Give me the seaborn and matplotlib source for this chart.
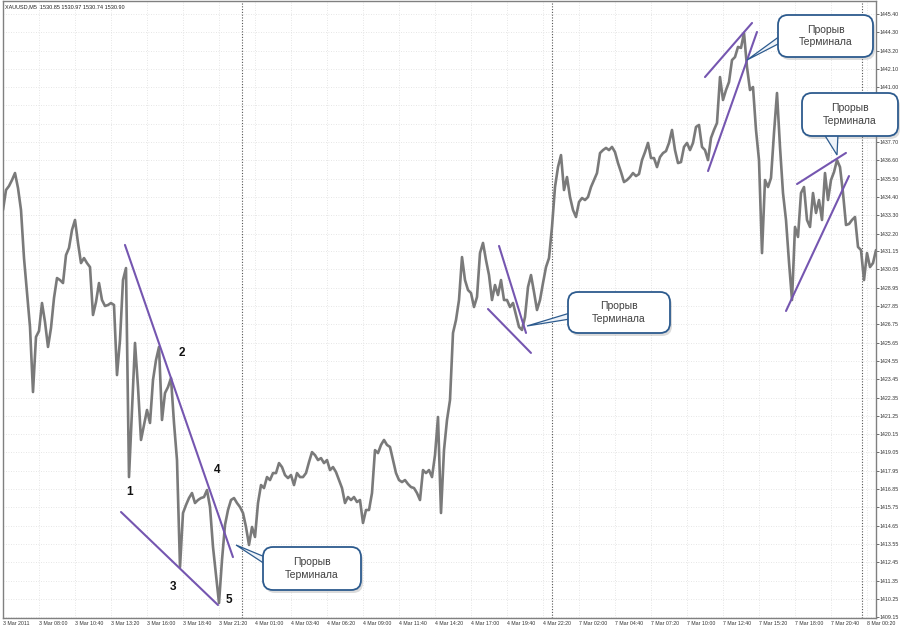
import matplotlib
matplotlib.use('Agg')
import matplotlib.pyplot as plt
from matplotlib.patches import FancyBboxPatch, Polygon
import numpy as np
import pandas as pd
import seaborn as sns

# XAUUSD M5, closes, one reading every 8/3 bars
close = [
    1433.62, 1434.82, 1435.06, 1435.42, 1435.84, 1434.94, 1433.62, 1430.73, 1428.63, 1426.59,
    1422.68, 1425.99, 1426.35, 1428.03, 1426.89, 1425.39, 1426.53, 1428.33, 1429.53, 1429.41,
    1429.23, 1430.91, 1431.34, 1432.42, 1433.02, 1431.64, 1430.43, 1430.73, 1430.43, 1430.19,
    1427.31, 1428.09, 1429.23, 1428.21, 1427.85, 1427.91, 1428.03, 1427.91, 1423.70, 1425.81,
    1429.41, 1430.13, 1417.57, 1421.60, 1425.63, 1422.98, 1419.80, 1420.70, 1421.60, 1420.82,
    1423.40, 1424.60, 1425.39, 1421.00, 1422.62, 1422.98, 1423.52, 1420.82, 1418.59, 1412.16,
    1415.41, 1415.89, 1416.31, 1416.61, 1416.01, 1416.19, 1416.31, 1416.37, 1416.79, 1415.77,
    1413.37, 1411.68, 1410.00, 1412.58, 1414.69, 1415.59, 1416.19, 1416.31, 1416.01, 1415.77,
    1415.41, 1414.57, 1413.49, 1414.57, 1413.97, 1416.01, 1417.09, 1416.91, 1417.57, 1417.39,
    1417.81, 1417.81, 1418.41, 1418.17, 1417.69, 1417.51, 1417.69, 1417.09, 1417.81, 1417.57,
    # 4 Mar
    1417.57, 1417.81, 1418.47, 1419.07, 1418.89, 1418.59, 1418.71, 1418.41, 1418.59, 1417.99,
    1418.17, 1417.87, 1417.39, 1416.91, 1416.01, 1416.37, 1416.19, 1416.37, 1416.07, 1416.19,
    1414.81, 1415.59, 1415.59, 1416.61, 1419.19, 1419.01, 1419.50, 1419.80, 1419.50, 1419.38,
    1418.59, 1417.81, 1417.39, 1417.27, 1417.39, 1417.15, 1416.97, 1416.91, 1416.61, 1416.19,
    1417.99, 1417.81, 1417.99, 1417.57, 1418.89, 1421.18, 1415.41, 1419.19, 1421.00, 1422.20,
    1426.23, 1427.01, 1428.21, 1430.79, 1429.41, 1428.81, 1428.63, 1427.79, 1428.39, 1431.03,
    1431.64, 1430.61, 1429.71, 1428.21, 1429.11, 1428.51, 1429.41, 1428.21, 1428.21, 1427.79,
    1428.03, 1427.31, 1426.59, 1426.41, 1427.19, 1428.99, 1429.71, 1428.69, 1427.61, 1428.21,
    1429.23, 1430.19, 1430.73, 1432.60, 1435.00, 1436.20, 1436.92, 1434.82, 1435.60, 1434.40,
    1433.62, 1433.20, 1434.10, 1434.34, 1434.22, 1434.40,
    # 7 Mar
    1435.00, 1435.42, 1435.84, 1437.04, 1437.22, 1437.35, 1437.22, 1437.41, 1437.10, 1436.44,
    1435.90, 1435.30, 1435.42, 1435.60, 1435.84, 1435.66, 1435.78, 1436.62, 1437.10, 1437.65,
    1436.74, 1436.74, 1436.20, 1436.80, 1437.04, 1437.16, 1437.65, 1438.43, 1437.22, 1436.44,
    1436.50, 1437.41, 1437.65, 1437.22, 1437.65, 1438.61, 1438.73, 1437.41, 1437.22, 1436.62,
    1437.95, 1438.43, 1438.85, 1441.61, 1440.23, 1440.83, 1441.31, 1442.63, 1442.81, 1443.42,
    1443.36, 1444.26, 1442.21, 1440.83, 1441.01, 1438.43, 1436.62, 1431.03, 1435.42, 1435.00,
    1435.54, 1438.25, 1440.65, 1437.41, 1434.64, 1433.02, 1430.49, 1428.21, 1432.60, 1432.00,
    1434.64, 1435.00, 1433.02, 1432.60, 1434.64, 1433.44, 1434.22, 1433.02, 1435.84, 1434.22,
    1435.42, 1435.90, 1436.62, 1436.20, 1434.64, 1432.72, 1432.78, 1433.02, 1433.20, 1431.40,
    1431.21, 1429.41, 1431.03, 1430.19, 1430.43, 1431.21,
]
step_bars = 8 / 3

x_labels = ['3 Mar 2011', '3 Mar 08:00', '3 Mar 10:40', '3 Mar 13:20', '3 Mar 16:00',
            '3 Mar 18:40', '3 Mar 21:20', '4 Mar 01:00', '4 Mar 03:40', '4 Mar 06:20',
            '4 Mar 09:00', '4 Mar 11:40', '4 Mar 14:20', '4 Mar 17:00', '4 Mar 19:40',
            '4 Mar 22:20', '7 Mar 02:00', '7 Mar 04:40', '7 Mar 07:20', '7 Mar 10:00',
            '7 Mar 12:40', '7 Mar 15:20', '7 Mar 18:00', '7 Mar 20:40', '8 Mar 00:20']
y_labels = ['1445.40', '1444.30', '1443.20', '1442.10', '1441.00', '1439.90', '1438.80',
            '1437.70', '1436.60', '1435.50', '1434.40', '1433.30', '1432.20', '1431.15',
            '1430.05', '1428.95', '1427.85', '1426.75', '1425.65', '1424.55', '1423.45',
            '1422.35', '1421.25', '1420.15', '1419.05', '1417.95', '1416.85', '1415.75',
            '1414.65', '1413.55', '1412.45', '1411.35', '1410.25', '1409.15']
separators = [212.4, 488.0, 763.6]  # period separators, in bars

# trend lines drawn on the chart: (bar, price) -> (bar, price)
trend_lines = [
    ((108.4, 1431.52), (204.4, 1412.76)),
    ((104.9, 1415.47), (191.1, 1409.88)),
    ((440.9, 1431.46), (464.9, 1426.23)),
    ((431.1, 1427.67), (469.3, 1425.03)),
    ((624.0, 1441.61), (665.8, 1444.86)),
    ((626.7, 1435.96), (670.2, 1444.32)),
    ((705.8, 1435.18), (749.3, 1437.05)),
    ((696.0, 1427.55), (752.0, 1435.66)),
]
wave_names = ['1', '2', '3', '4', '5']
wave_bar = [112.9, 159.1, 151.1, 190.2, 200.9]
wave_price = [1416.67, 1425.02, 1410.96, 1417.99, 1410.18]

callout_text = 'Прорыв\nТерминала'
header = 'XAUUSD,M5  1530.85 1530.97 1530.74 1530.90'

sns.set_theme(style='white')
plt.rcParams['font.family'] = ['Liberation Sans', 'DejaVu Sans']

df = pd.DataFrame({'bar': np.arange(len(close)) * step_bars, 'close': close})

fig = plt.figure(figsize=(9, 6.3), dpi=100)
ax = fig.add_axes([3 / 900, 12 / 630, 873 / 900, 617 / 630])

sns.lineplot(data=df, x='bar', y='close', ax=ax, color='#7a7a7a', lw=1.9,
             estimator=None, sort=False, zorder=3)

for (b0, p0), (b1, p1) in trend_lines:
    ax.plot([b0, b1], [p0, p1], color='#7556b0', lw=1.5, zorder=4)

for name, b, p in zip(wave_names, wave_bar, wave_price):
    ax.text(b, p, name, ha='center', va='center', fontsize=8.5,
            fontweight='bold', color='#111111', zorder=5)

for s in separators:
    ax.axvline(s, color='#555555', ls=(0, (1, 1.5)), lw=0.8, zorder=2)

ax.set_xlim(0, 776)
ax.set_ylim(1409.10, 1446.18)
ax.set_xticks(np.arange(len(x_labels)) * 32)
ax.set_xticklabels(x_labels)
ax.set_yticks([float(v) for v in y_labels])
ax.set_yticklabels(y_labels)
ax.yaxis.tick_right()
ax.tick_params(axis='both', direction='out', length=2, width=0.6, color='#555555',
               labelsize=3.8, labelcolor='#333333', pad=0.5)
plt.setp(ax.get_xticklabels(), ha='left')
ax.set_xlabel('')
ax.set_ylabel('')
ax.grid(True, color='#dedede', ls=(0, (1, 2)), lw=0.6, zorder=0)
for side in ax.spines:
    ax.spines[side].set_visible(True)
    ax.spines[side].set_color('#808080')
    ax.spines[side].set_linewidth(1.0)

fig.text(5 / 900, 1 - 7 / 630, header, fontsize=4, color='#222222', va='center')

# callout bubbles, laid out in figure pixels
ov = fig.add_axes([0, 0, 1, 1])
ov.set_xlim(0, 900)
ov.set_ylim(630, 0)
ov.axis('off')
ov.patch.set_alpha(0)

callouts = [
    ((263, 547, 98, 43), [(265, 557), (236, 545), (265, 564)]),
    ((568, 292, 102, 41), [(570, 313), (527, 326), (570, 319)]),
    ((778, 15, 95, 42), [(780, 36), (747, 60), (780, 43)]),
    ((802, 93, 96, 43), [(824, 134), (837, 155), (838, 134)]),
]
for (bx, by, bw, bh), tail in callouts:
    shadow = FancyBboxPatch((bx + 2, by + 3), bw, bh, boxstyle='round,pad=0,rounding_size=10',
                            fc='#9a9a9a', ec='none', alpha=0.35, zorder=1)
    ov.add_patch(shadow)
    ov.add_patch(Polygon(tail, closed=True, fc='#eef3f9', ec='#2d5b8e', lw=0.9, zorder=2))
    box = FancyBboxPatch((bx, by), bw, bh, boxstyle='round,pad=0,rounding_size=10',
                         fc='white', ec='#2d5b8e', lw=1.3, zorder=3)
    ov.add_patch(box)
    ov.text(bx + bw / 2, by + bh / 2, callout_text, ha='center', va='center',
            fontsize=7.5, color='#404040', linespacing=1.3, zorder=4)

fig.savefig('out.png', dpi=100)
